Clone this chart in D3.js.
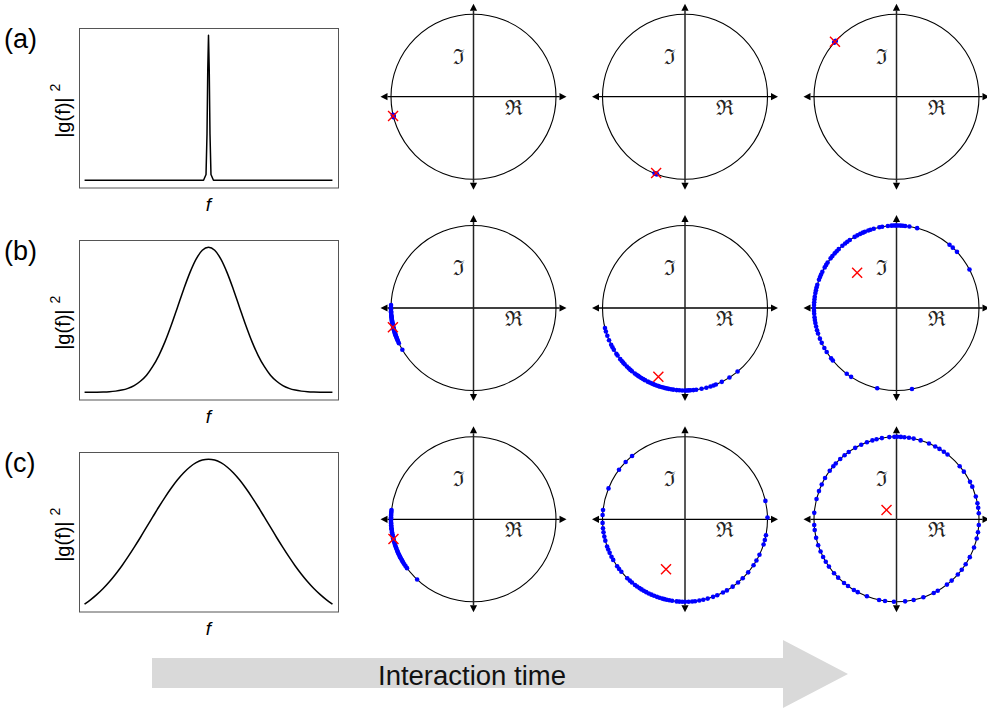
<!DOCTYPE html>
<html>
<head>
<meta charset="utf-8">
<script src="https://cdn.jsdelivr.net/npm/d3@7"></script>
<style>
  body { margin: 0; background: #fff; }
  svg { display: block; }
</style>
</head>
<body>
<script>
// ---- data ---------------------------------------------------------------
const rowLabels = ["(a)", "(b)", "(c)"];

// frequency grid for the broad spectra
const freq = [-1, -0.95, -0.9, -0.85, -0.8, -0.75, -0.7, -0.65, -0.6, -0.55, -0.5,
  -0.45, -0.4, -0.35, -0.3, -0.25, -0.2, -0.15, -0.1, -0.05, 0,
  0.05, 0.1, 0.15, 0.2, 0.25, 0.3, 0.35, 0.4, 0.45, 0.5,
  0.55, 0.6, 0.65, 0.7, 0.75, 0.8, 0.85, 0.9, 0.95, 1];

// (a) narrow line spectrum
const freqA = [-1, -0.04, -0.02, -0.012, -0.006, 0, 0.006, 0.012, 0.02, 0.04, 1];
const specA = [0, 0, 0.04, 0.32, 0.76, 1, 0.76, 0.32, 0.04, 0, 0];

// (b) medium-width spectrum
const specB = [0.0002, 0.0005, 0.001, 0.002, 0.004, 0.008, 0.015, 0.027, 0.046, 0.076, 0.118,
  0.178, 0.255, 0.351, 0.464, 0.587, 0.711, 0.825, 0.918, 0.979, 1,
  0.979, 0.918, 0.825, 0.711, 0.587, 0.464, 0.351, 0.255, 0.178, 0.118,
  0.076, 0.046, 0.027, 0.015, 0.008, 0.004, 0.002, 0.001, 0.0005, 0.0002];

// (c) broad spectrum
const specC = [0.118, 0.146, 0.178, 0.214, 0.255, 0.301, 0.351, 0.406, 0.464, 0.524, 0.587,
  0.649, 0.711, 0.770, 0.825, 0.875, 0.918, 0.953, 0.979, 0.995, 1,
  0.995, 0.979, 0.953, 0.918, 0.875, 0.825, 0.770, 0.711, 0.649, 0.587,
  0.524, 0.464, 0.406, 0.351, 0.301, 0.255, 0.214, 0.178, 0.146, 0.118];

// phases (degrees) of the individual phasors, one list per snapshot
const phasesA1 = [192.6, 193.0, 193.3, 193.6, 194.0, 194.4, 193.8, 192.9];
const phasesA2 = [248.4, 248.8, 249.1, 249.4, 249.8, 250.2, 249.0];
const phasesA3 = [137.4, 137.8, 138.2, 138.6, 139.0, 138.4];

const phasesB1 = [177.9, 179.5, 181.0, 182.2, 183.0, 184.1, 185.0, 185.8, 186.5, 187.3, 188.0,
  188.6, 189.3, 190.0, 190.6, 191.2, 191.9, 192.5, 193.1, 193.8, 194.4, 195.0, 195.7, 196.3,
  197.0, 197.8, 198.5, 199.3, 200.1, 201.0, 201.8, 202.7, 203.6, 205.2, 210.4];
const phasesB2 = [194.1, 196.5, 199.7, 203.0, 206.5, 208.5, 210.4, 213.7, 215.2,
  218.3, 220.0, 221.5, 223.0, 225.2, 227.0, 228.6, 230.0, 232.5, 234.0, 235.4, 236.5,
  238.0, 239.5, 241.0, 243.2, 244.6, 246.0, 247.3, 248.5, 249.8, 251.2, 252.5, 254.0,
  255.5, 257.1, 258.6, 260.2, 261.8, 264.2, 266.0, 268.0, 270.0, 271.2, 272.5, 273.8,
  275.8, 277.8, 281.6, 285.0, 288.0, 290.2, 292.0, 296.5, 302.6, 309.6];
const phasesB3 = [27.8, 42.9, 47.0, 50.0, 75.5, 81.0, 84.0, 85.5, 87.0, 88.5, 90.0, 90.7, 92.0,
  93.5, 96.0, 100.0, 102.0, 106.0, 108.4, 110.0, 112.5, 114.0, 116.0, 118.3, 120.5,
  124.5, 126.6, 128.5, 131.0, 134.5, 136.5, 138.5, 141.0, 143.0, 146.6,
  148.5, 150.5, 154.0, 156.1, 158.0, 160.0, 163.7, 165.5, 167.5, 169.5, 172.1,
  174.0, 176.0, 178.0, 180.2, 182.0, 184.0, 186.5, 188.4, 190.5, 193.0, 195.6, 198.0, 201.8,
  205.0, 209.0, 212.2, 217.6, 219.5, 232.9, 236.6, 256.5, 280.8];

const phasesC1 = [173.6, 174.8, 175.6, 176.9, 177.5, 178.6, 179.4, 180.3, 181.1, 182.4, 183.0,
  184.2, 185.1, 186.3, 187.0, 188.2, 189.1, 190.4, 191.0, 192.3, 193.2, 194.1, 195.3, 196.0,
  197.2, 198.1, 199.3, 200.2, 201.0, 202.4, 203.1, 204.3, 205.2, 206.1, 207.3, 208.2, 209.4,
  210.3, 211.5, 213.0, 214.5, 216.3, 226.9];
const phasesC2 = [1.2, 12.9, 129.9, 136.0, 143.1, 158.0, 173.5, 177.0, 182.5, 186.2,
  189.0, 192.1, 195.0, 199.2, 201.5, 204.0, 207.0, 209.5, 214.7, 217.0, 219.5,
  225.6, 228.0, 230.0, 232.7, 234.5, 236.5, 238.2, 240.0, 242.0, 244.0, 246.0, 248.0,
  250.1, 252.0, 254.0, 255.5, 257.2, 259.0, 261.0, 264.2, 266.0, 268.0, 270.0, 272.5,
  275.0, 277.0, 280.0, 282.8, 286.0, 289.9, 293.0, 297.4, 300.5, 305.3, 310.0, 314.4, 320.0,
  326.2, 330.0, 334.5, 342.2, 345.5, 348.9];
const phasesC3 = [4.2, 8.0, 11.2, 16.0, 23.3, 27.0, 35.3, 40.0, 51.8, 55.0, 58.6, 62.0, 66.8,
  73.0, 78.0, 81.3, 84.5, 87.0, 89.5, 91.5, 95.0, 100.2, 104.0, 107.0, 111.0, 115.3, 120.0,
  125.4, 129.0, 133.0, 137.4, 140.0, 144.0, 150.0, 155.0, 160.0, 165.8, 175.5, 184.0, 187.5,
  193.0, 198.3, 203.0, 207.2, 211.0, 215.0, 220.8, 225.0, 230.5, 234.0, 238.9, 242.0, 249.0,
  257.8, 262.0, 268.2, 276.0, 282.0, 289.0, 296.8, 300.0, 307.7, 312.0, 318.0, 322.3, 327.0,
  332.7, 340.0, 346.5, 351.0, 356.0];

// resultant (mean phasor) of each snapshot, [Re, Im]
const meanA = [[-0.975, -0.233], [-0.350, -0.926], [-0.746, 0.665]];
const meanB = [[-0.977, -0.234], [-0.323, -0.832], [-0.477, 0.428]];
const meanC = [[-0.970, -0.240], [-0.230, -0.606], [-0.121, 0.113]];

const timeLabel = "Interaction time";

// ---- layout -------------------------------------------------------------
const W = 987, H = 712;
const svg = d3.select("body").append("svg").attr("width", W).attr("height", H);

const rowTops = [28, 240, 452];
const boxH = 159.5;
const boxX0 = 79, boxX1 = 338;
const circleRows = [96.7, 308, 519.3];
const circleCols = [473.5, 685, 896.5];
const R = 82.5;          // unit circle radius in px
const AX = 93;           // axis half-length in px
const HEAD = 7, HW = 3.6;

const spectra = [
  { f: freqA, g: specA },
  { f: freq, g: specB },
  { f: freq, g: specC }
];
const phases = [
  [phasesA1, phasesA2, phasesA3],
  [phasesB1, phasesB2, phasesB3],
  [phasesC1, phasesC2, phasesC3]
];
const means = [meanA, meanB, meanC];

const font = "'Liberation Sans', Arial, sans-serif";

// ---- spectrum panels ----------------------------------------------------
spectra.forEach((s, i) => {
  const top = rowTops[i];
  const x = d3.scaleLinear().domain([-1.045, 1.045]).range([boxX0, boxX1]);
  const gmin = d3.min(s.g), gmax = d3.max(s.g), pad = (gmax - gmin) * 0.05;
  const y = d3.scaleLinear().domain([gmin - pad, gmax + pad]).range([top + boxH, top]);

  const g = svg.append("g");
  g.append("rect")
    .attr("x", boxX0 + 0.5).attr("y", top + 0.5)
    .attr("width", boxX1 - boxX0).attr("height", boxH)
    .attr("fill", "none").attr("stroke", "#555").attr("stroke-width", 1);

  const line = d3.line()
    .x((d, k) => x(s.f[k]))
    .y(d => y(d))
    .curve(i === 0 ? d3.curveLinear : d3.curveMonotoneX);

  g.append("path").datum(s.g)
    .attr("d", line)
    .attr("fill", "none").attr("stroke", "#000").attr("stroke-width", 1.5)
    .attr("stroke-linejoin", "round");

  // axis label along f
  g.append("text")
    .attr("x", x(0)).attr("y", top + boxH + 23.5)
    .attr("text-anchor", "middle")
    .attr("font-family", font).attr("font-style", "italic").attr("font-size", 19)
    .text("f");

  // vertical label |g(f)|^2
  const yl = g.append("text")
    .attr("transform", `translate(70,${top + boxH / 2 + 3}) rotate(-90)`)
    .attr("text-anchor", "middle")
    .attr("font-family", font).attr("font-size", 20);
  yl.append("tspan").text("|g(f)|");
  yl.append("tspan").attr("dx", 6).attr("dy", -10).attr("font-size", 14).text("2");

  // panel tag
  svg.append("text")
    .attr("x", 4).attr("y", top + 20)
    .attr("font-family", font).attr("font-size", 27)
    .text(rowLabels[i]);
});

// ---- phasor diagrams ----------------------------------------------------
circleRows.forEach((cy, i) => {
  circleCols.forEach((cx, j) => {
    const sx = d3.scaleLinear().domain([-1, 1]).range([cx - R, cx + R]);
    const sy = d3.scaleLinear().domain([-1, 1]).range([cy + R, cy - R]);
    const g = svg.append("g");

    // unit circle
    g.append("circle")
      .attr("cx", sx(0)).attr("cy", sy(0)).attr("r", sx(1) - sx(0))
      .attr("fill", "none").attr("stroke", "#000").attr("stroke-width", 1.1);

    // axes with arrowheads
    g.append("line")
      .attr("x1", cx - AX + HEAD).attr("x2", cx + AX - HEAD)
      .attr("y1", sy(0)).attr("y2", sy(0))
      .attr("stroke", "#000").attr("stroke-width", 1.3);
    g.append("line")
      .attr("x1", sx(0)).attr("x2", sx(0))
      .attr("y1", cy - AX + HEAD).attr("y2", cy + AX - HEAD)
      .attr("stroke", "#222").attr("stroke-width", 1.5);

    const heads = [
      [[cx - AX, cy], [cx - AX + HEAD, cy - HW], [cx - AX + HEAD, cy + HW]],
      [[cx + AX, cy], [cx + AX - HEAD, cy - HW], [cx + AX - HEAD, cy + HW]],
      [[cx, cy - AX], [cx - HW, cy - AX + HEAD], [cx + HW, cy - AX + HEAD]],
      [[cx, cy + AX], [cx - HW, cy + AX - HEAD], [cx + HW, cy + AX - HEAD]]
    ];
    g.selectAll("path.head").data(heads).join("path")
      .attr("class", "head")
      .attr("d", d => "M" + d.map(p => p.join(",")).join("L") + "Z")
      .attr("fill", "#000");

    // axis symbols
    g.append("text")
      .attr("x", sx(-0.18)).attr("y", sy(0.485))
      .attr("text-anchor", "middle").attr("dominant-baseline", "central")
      .attr("font-family", "'DejaVu Serif', serif").attr("font-size", 21)
      .attr("fill", "#222")
      .text("\u2111");
    g.append("text")
      .attr("x", sx(0.485)).attr("y", sy(-0.133))
      .attr("text-anchor", "middle").attr("dominant-baseline", "central")
      .attr("font-family", "'DejaVu Serif', serif").attr("font-size", 21)
      .attr("fill", "#222")
      .text("\u211C");

    // individual phasors
    g.selectAll("circle.pt").data(phases[i][j]).join("circle")
      .attr("class", "pt")
      .attr("cx", d => sx(Math.cos(d * Math.PI / 180)))
      .attr("cy", d => sy(Math.sin(d * Math.PI / 180)))
      .attr("r", 2.3)
      .attr("fill", "#0000ff");

    // resultant
    const m = means[i][j];
    const mx = sx(m[0]), my = sy(m[1]), k = 5;
    g.append("path")
      .attr("d", `M${mx - k},${my - k}L${mx + k},${my + k}M${mx - k},${my + k}L${mx + k},${my - k}`)
      .attr("stroke", "#ff0000").attr("stroke-width", 1.4).attr("fill", "none");
  });
});

// ---- time arrow ---------------------------------------------------------
const arrowX = d3.scaleLinear().domain([0, 1]).range([152, 848]);
const bodyEnd = 0.9066;
const arrowPts = [
  [arrowX(0), 658], [arrowX(bodyEnd), 658], [arrowX(bodyEnd), 640],
  [arrowX(1), 674], [arrowX(bodyEnd), 708], [arrowX(bodyEnd), 688], [arrowX(0), 688]
];
svg.append("path")
  .attr("d", "M" + arrowPts.map(p => p.join(",")).join("L") + "Z")
  .attr("fill", "#d9d9d9");
svg.append("text")
  .attr("x", 472).attr("y", 685)
  .attr("text-anchor", "middle")
  .attr("font-family", font).attr("font-size", 27)
  .attr("fill", "#111")
  .attr("textLength", 188).attr("lengthAdjust", "spacingAndGlyphs")
  .text(timeLabel);
</script>
</body>
</html>
